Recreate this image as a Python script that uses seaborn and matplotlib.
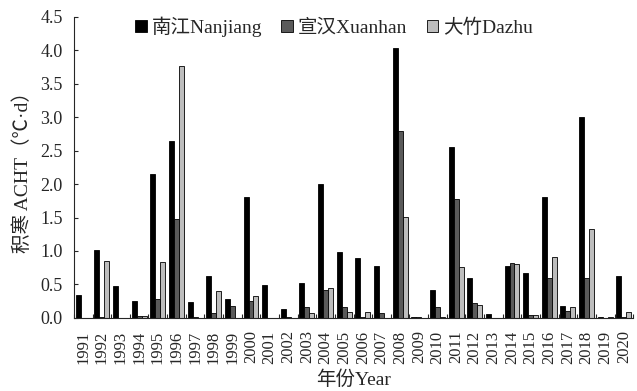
import numpy as np
import pandas as pd
import matplotlib
matplotlib.use("Agg")
import matplotlib.pyplot as plt
import seaborn as sns
from matplotlib.ticker import FixedLocator

# ------------------------
# DADOS
# ------------------------
years = [str(y) for y in range(1991, 2021)]
nanjiang = [0.34, 1.01, 0.47, 0.25, 2.15, 2.65, 0.24, 0.62, 0.28, 1.80,
            0.49, 0.14, 0.52, 2.00, 0.99, 0.89, 0.78, 4.04, 0.02, 0.41,
            2.56, 0.59, 0.06, 0.78, 0.67, 1.81, 0.18, 3.01, 0.01, 0.63]
xuanhan = [0.00, 0.02, 0.00, 0.03, 0.28, 1.48, 0.015, 0.07, 0.18, 0.25,
           0.00, 0.02, 0.16, 0.41, 0.17, 0.01, 0.07, 2.80, 0.02, 0.16,
           1.78, 0.22, 0.00, 0.82, 0.04, 0.60, 0.10, 0.60, 0.00, 0.02]
dazhu = [0.00, 0.85, 0.00, 0.03, 0.84, 3.77, 0.00, 0.40, 0.00, 0.32,
         0.00, 0.00, 0.07, 0.44, 0.09, 0.09, 0.00, 1.51, 0.00, 0.02,
         0.76, 0.20, 0.00, 0.81, 0.04, 0.91, 0.16, 1.33, 0.01, 0.09]
series = ["南江Nanjiang", "宣汉Xuanhan", "大竹Dazhu"]
colors = ["#000000", "#5a5a5a", "#bdbdbd"]

df = pd.DataFrame({
    "year": years * 3,
    "site": np.repeat(series, len(years)),
    "acht": nanjiang + xuanhan + dazhu,
})

# ------------------------
# ESTILO
# ------------------------
sns.set_style("ticks")
plt.rcParams["font.family"] = ["Liberation Serif", "Noto Sans CJK SC"]

fig = plt.figure(figsize=(6.37, 3.91), dpi=100)
ax = fig.add_axes([0.116, 0.187, 0.878, 0.77])

sns.barplot(data=df, x="year", y="acht", hue="site", hue_order=series,
            palette=colors, width=0.8, edgecolor="black", linewidth=0.6,
            saturation=1, ax=ax)

ax.set_ylim(0, 4.5)
ax.set_xlim(-0.5, len(years) - 0.5)
ax.set_yticks(np.arange(0, 4.51, 0.5))
ax.set_yticklabels([f"{v:.1f}" for v in np.arange(0, 4.51, 0.5)], fontsize=13)
ax.tick_params(axis="y", direction="in", length=3, width=0.8, pad=8)
ax.tick_params(axis="x", which="major", length=0, labelsize=12, labelrotation=90, pad=9)
ax.xaxis.set_minor_locator(FixedLocator(np.arange(-0.5, len(years), 1)))
ax.tick_params(axis="x", which="minor", direction="in", length=3, width=0.8)

sns.despine(ax=ax)
for s in ["left", "bottom"]:
    ax.spines[s].set_linewidth(0.8)

ax.set_xlabel("年份Year", fontsize=14, labelpad=5)
ax.set_ylabel("积寒 ACHT（℃·d）", fontsize=14, labelpad=6)

ax.legend(loc="upper center", bbox_to_anchor=(0.465, 1.06), ncol=3, frameon=False,
          fontsize=14, handlelength=0.6, handleheight=0.6, handletextpad=0.25,
          columnspacing=1.0)

fig.savefig("out.png", dpi=100)
